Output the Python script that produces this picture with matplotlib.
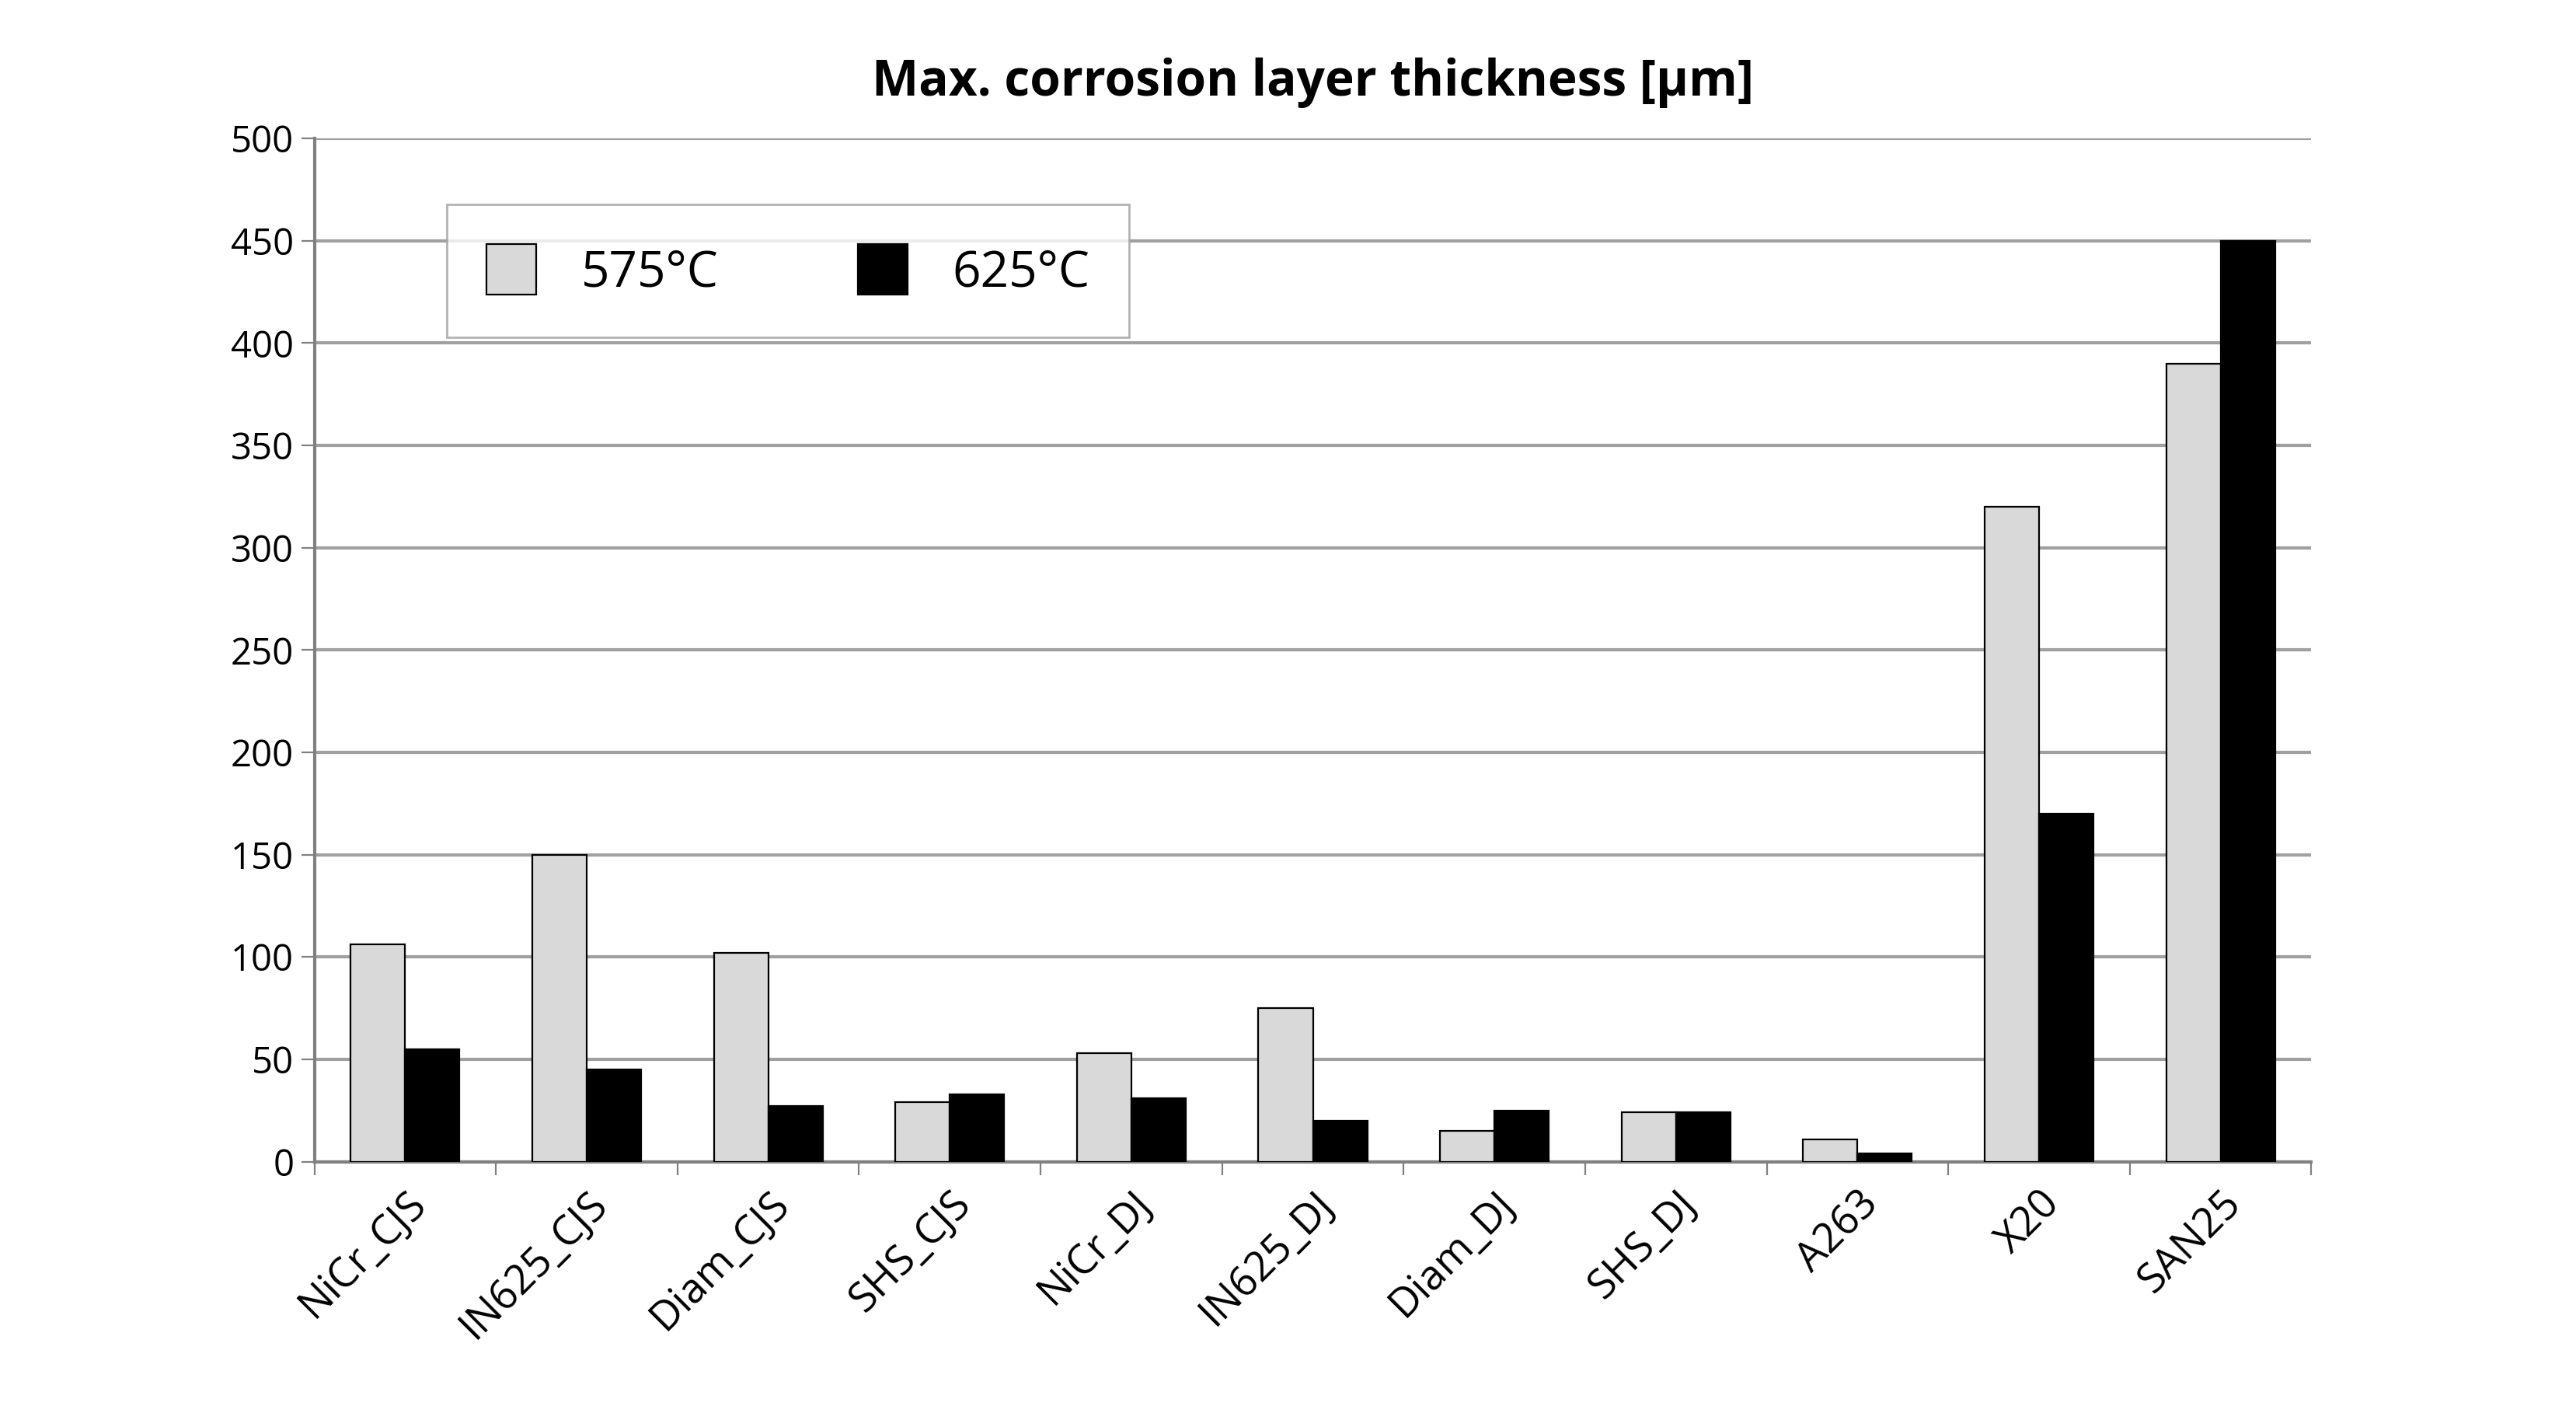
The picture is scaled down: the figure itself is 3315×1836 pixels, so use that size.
import matplotlib.pyplot as plt
import numpy as np

categories = ['NiCr_CJS', 'IN625_CJS', 'Diam_CJS', 'SHS_CJS', 'NiCr_DJ', 'IN625_DJ',
              'Diam_DJ', 'SHS_DJ', 'A263', 'X20', 'SAN25']
t575 = [106, 150, 102, 29, 53, 75, 15, 24, 11, 320, 390]
t625 = [55, 45, 27, 33, 31, 20, 25, 24, 4, 170, 450]

plt.rcParams['font.family'] = ['Open Sans', 'DejaVu Sans']

fig = plt.figure(figsize=(16.58, 9.18), dpi=200)
ax = fig.add_axes([0.122, 0.186, 0.775, 0.717])

x = np.arange(len(categories))
w = 0.3
ax.bar(x - w / 2, t575, w, color='#d9d9d9', edgecolor='black', linewidth=0.8, label='575°C', zorder=3)
ax.bar(x + w / 2, t625, w, color='black', edgecolor='black', linewidth=0.8, label='625°C', zorder=3)

ax.set_ylim(0, 500)
ax.set_xlim(-0.5, len(categories) - 0.5)
ax.set_yticks(range(0, 501, 50))
ax.grid(axis='y', color='#a0a0a0', linewidth=1.5, zorder=0)
ax.set_xticks(np.arange(-0.5, len(categories), 1), minor=False)
ax.set_xticklabels([])
ax.set_xticks(x, minor=True)
ax.set_xticklabels(categories, minor=True, rotation=45, ha='right', rotation_mode='anchor', fontsize=19)
ax.tick_params(axis='x', which='minor', length=0, pad=10)
ax.tick_params(axis='x', which='major', length=6, color='#808080')
ax.tick_params(axis='y', labelsize=17, length=6, color='#808080')
for s in ['top', 'right']:
    ax.spines[s].set_visible(False)
for s in ['left', 'bottom']:
    ax.spines[s].set_color('#808080')
    ax.spines[s].set_linewidth(1.5)

ax.set_title('Max. corrosion layer thickness [µm]', fontsize=23, fontweight='bold', pad=20)
leg = ax.legend(loc='upper left', bbox_to_anchor=(0.054, 0.96), ncol=2, fontsize=23,
                frameon=True, fancybox=False, edgecolor='#a0a0a0', borderpad=0.8,
                columnspacing=2.8, handlelength=1.0, handleheight=1.2, handletextpad=0.9)
leg.get_frame().set_linewidth(1.0)

fig.savefig('out.png', dpi=200, facecolor='white')
